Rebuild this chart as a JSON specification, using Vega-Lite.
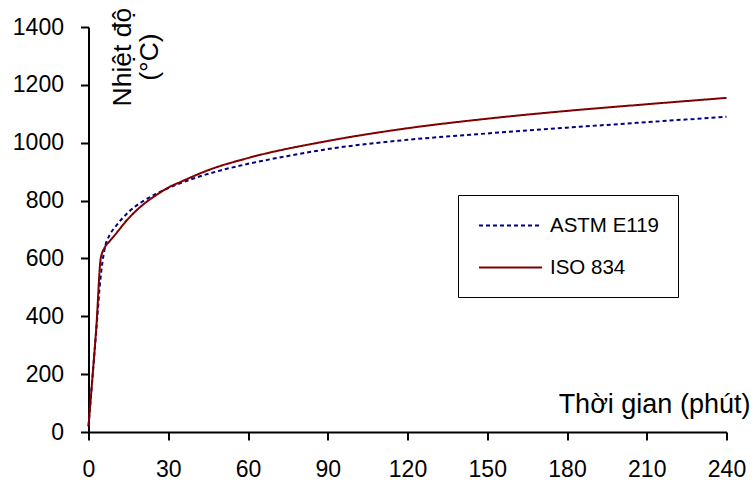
{
  "$schema": "https://vega.github.io/schema/vega-lite/v6.json",
  "width": 638,
  "height": 405,
  "autosize": {"type": "none"},
  "padding": {"left": 88.5, "top": 27, "right": 27.5, "bottom": 52},
  "background": "white",
  "config": {"view": {"stroke": null}, "font": "Liberation Sans"},
  "datasets": {
    "curves": [
      {"series": "ASTM E119", "t": 0, "temp": 20},
      {"series": "ASTM E119", "t": 1.5, "temp": 190},
      {"series": "ASTM E119", "t": 3, "temp": 360},
      {"series": "ASTM E119", "t": 4.5, "temp": 530},
      {"series": "ASTM E119", "t": 6, "temp": 630},
      {"series": "ASTM E119", "t": 8, "temp": 682},
      {"series": "ASTM E119", "t": 10, "temp": 708},
      {"series": "ASTM E119", "t": 15, "temp": 760},
      {"series": "ASTM E119", "t": 20, "temp": 795},
      {"series": "ASTM E119", "t": 25, "temp": 821},
      {"series": "ASTM E119", "t": 30, "temp": 843},
      {"series": "ASTM E119", "t": 40, "temp": 878},
      {"series": "ASTM E119", "t": 50, "temp": 905},
      {"series": "ASTM E119", "t": 60, "temp": 927},
      {"series": "ASTM E119", "t": 75, "temp": 954},
      {"series": "ASTM E119", "t": 90, "temp": 978},
      {"series": "ASTM E119", "t": 105, "temp": 996},
      {"series": "ASTM E119", "t": 120, "temp": 1010},
      {"series": "ASTM E119", "t": 150, "temp": 1032},
      {"series": "ASTM E119", "t": 180, "temp": 1052},
      {"series": "ASTM E119", "t": 210, "temp": 1071},
      {"series": "ASTM E119", "t": 240, "temp": 1090},
      {"series": "ISO 834", "t": 0, "temp": 20},
      {"series": "ISO 834", "t": 1.5, "temp": 190},
      {"series": "ISO 834", "t": 3, "temp": 370},
      {"series": "ISO 834", "t": 4.6, "temp": 600},
      {"series": "ISO 834", "t": 6, "temp": 636},
      {"series": "ISO 834", "t": 8, "temp": 660},
      {"series": "ISO 834", "t": 10, "temp": 682},
      {"series": "ISO 834", "t": 15, "temp": 738},
      {"series": "ISO 834", "t": 20, "temp": 782},
      {"series": "ISO 834", "t": 27, "temp": 828},
      {"series": "ISO 834", "t": 30, "temp": 845},
      {"series": "ISO 834", "t": 35, "temp": 866},
      {"series": "ISO 834", "t": 45, "temp": 905},
      {"series": "ISO 834", "t": 60, "temp": 947},
      {"series": "ISO 834", "t": 90, "temp": 1006},
      {"series": "ISO 834", "t": 120, "temp": 1050},
      {"series": "ISO 834", "t": 150, "temp": 1083},
      {"series": "ISO 834", "t": 180, "temp": 1110},
      {"series": "ISO 834", "t": 210, "temp": 1133},
      {"series": "ISO 834", "t": 240, "temp": 1155}
    ]
  },
  "layer": [
    {
      "data": {"name": "curves"},
      "mark": {"type": "line", "interpolate": "monotone", "strokeWidth": 2},
      "encoding": {
        "x": {
          "field": "t", "type": "quantitative",
          "scale": {"domain": [0, 240], "nice": false, "zero": false},
          "axis": {
            "values": [0, 30, 60, 90, 120, 150, 180, 210, 240],
            "format": "d",
            "title": null, "grid": false,
            "domainColor": "black", "domainWidth": 2,
            "tickColor": "black", "tickWidth": 2, "tickSize": 8,
            "labelColor": "black", "labelFontSize": 23, "labelPadding": 18,
            "labelFlush": false
          }
        },
        "y": {
          "field": "temp", "type": "quantitative",
          "scale": {"domain": [0, 1400], "nice": false},
          "axis": {
            "values": [0, 200, 400, 600, 800, 1000, 1200, 1400],
            "format": "d",
            "title": null, "grid": false,
            "domainColor": "black", "domainWidth": 2,
            "tickColor": "black", "tickWidth": 2, "tickSize": 8,
            "labelColor": "black", "labelFontSize": 23, "labelPadding": 17
          }
        },
        "color": {
          "field": "series", "type": "nominal",
          "scale": {"domain": ["ASTM E119", "ISO 834"], "range": ["#000080", "#800000"]},
          "legend": {
            "title": null, "orient": "none", "legendX": 369.5, "legendY": 168,
            "strokeColor": "black", "padding": 19, "rowPadding": 20,
            "labelFontSize": 20.5, "labelColor": "black", "labelOffset": 28,
            "symbolType": "M-3,0H3", "symbolSize": 441, "symbolOffset": 22,
            "symbolStrokeWidth": 2
          }
        },
        "strokeDash": {
          "field": "series", "type": "nominal",
          "scale": {"domain": ["ASTM E119", "ISO 834"], "range": [[4, 3], [1, 0]]},
          "legend": {
            "title": null, "orient": "none", "legendX": 369.5, "legendY": 168,
            "strokeColor": "black", "padding": 19, "rowPadding": 20,
            "labelFontSize": 20.5, "labelColor": "black", "labelOffset": 28,
            "symbolType": "M-3,0H3", "symbolSize": 441, "symbolOffset": 22,
            "symbolStrokeWidth": 2
          }
        }
      }
    },
    {
      "data": {"values": [{"line1": "Nhiệt độ", "line2": "(°C)"}]},
      "mark": {
        "type": "text", "text": ["Nhiệt độ", "(°C)"], "angle": 270,
        "align": "center", "baseline": "middle", "fontSize": 26.5,
        "lineHeight": 27, "color": "black"
      },
      "encoding": {"x": {"datum": 13}, "y": {"datum": 1296}}
    },
    {
      "data": {"values": [{"label": "Thời gian (phút)"}]},
      "mark": {
        "type": "text", "align": "right",
        "baseline": "alphabetic", "fontSize": 27, "color": "black", "clip": false
      },
      "encoding": {"text": {"field": "label"}, "x": {"datum": 249}, "y": {"datum": 65}}
    }
  ]
}
